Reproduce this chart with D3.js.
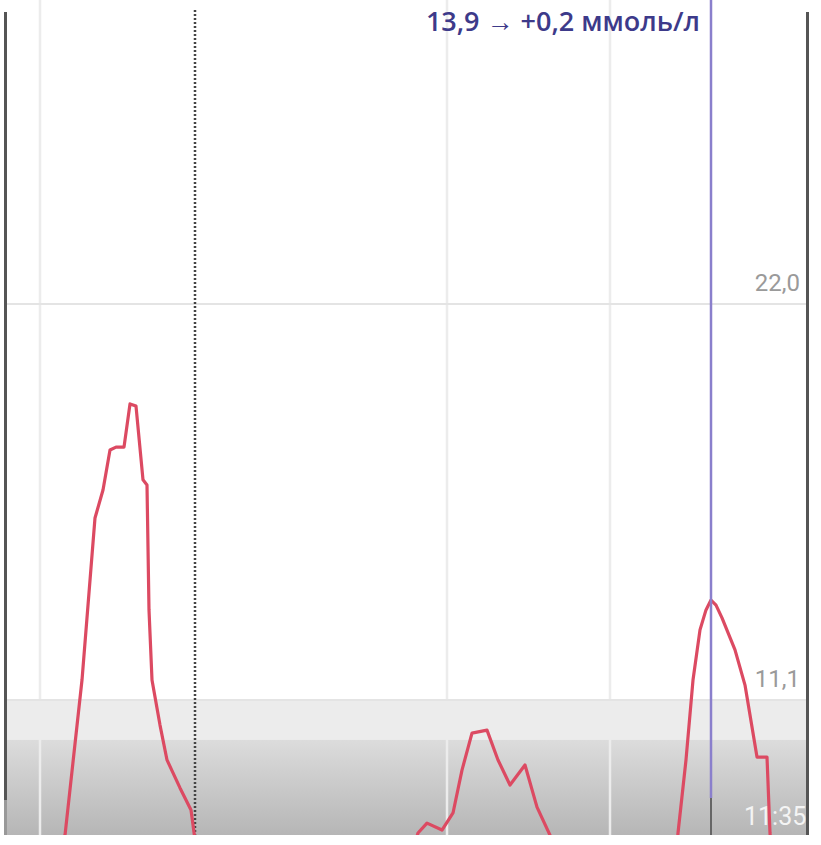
<!DOCTYPE html>
<html><head><meta charset="utf-8">
<script src="https://cdn.jsdelivr.net/npm/d3@7"></script>
<style>html,body{margin:0;padding:0;background:#fff;}svg{display:block;}</style>
</head><body>
<script>
// ---- data (minutes on a local time axis, values in mmol/L) ----
const peak1Times = [24, 26, 32.8, 38, 41.2, 44, 46.4, 49.6, 52, 54.4, 57.2, 58.8, 59.6, 60.8, 64, 66.8, 72, 76.4, 78, 79.2];
const peak1Values = [6.7, 7.38, 11.65, 16.11, 16.88, 17.98, 18.06, 18.06, 19.25, 19.19, 17.16, 17.02, 13.58, 11.65, 10.41, 9.45, 8.68, 8.07, 7.25, 6.7];
const peak2Times = [164, 167.2, 170.8, 176.8, 181.2, 184.8, 188.8, 194.8, 199.2, 204, 210, 214.8, 220, 222];
const peak2Values = [6.7, 7.44, 7.71, 7.52, 7.99, 9.17, 10.19, 10.27, 9.45, 8.76, 9.31, 8.15, 7.38, 6.97];
const peak3Times = [270.4, 271.2, 274.4, 277.2, 280, 282.4, 284.4, 286.4, 288.8, 294, 298, 302.8, 306.8, 308, 308.8];
const peak3Values = [6.7, 7.44, 9.45, 11.65, 13.03, 13.58, 13.85, 13.71, 13.36, 12.48, 11.51, 9.53, 9.53, 7.44, 6.7];
const yTicks = [22.0, 11.1];
const yTickLabels = ["22,0", "11,1"];
const vGridTimes = [16, 178.8, 244];
const markerTime = 78;
const cursorTime = 284.4;
const cursorLabel = "13,9 → +0,2 ммоль/л";
const timeLabel = "11:35";
const targetHigh = 11.1, targetInner = 10.0;

const W = 821, H = 845;
const plot = {left: 6, right: 808, top: 0, bottom: 835};
const x = d3.scaleLinear().domain([0, 328.4]).range([0, 821]);
const y = d3.scaleLinear().domain([11.1, 22.0]).range([700, 304]);

const svg = d3.select("body").append("svg").attr("width", W).attr("height", H);
const defs = svg.append("defs");
const grad = defs.append("linearGradient").attr("id", "lowg").attr("x1", 0).attr("y1", 0).attr("x2", 0).attr("y2", 1);
grad.append("stop").attr("offset", "0%").attr("stop-color", "#dcdcdc");
grad.append("stop").attr("offset", "100%").attr("stop-color", "#b6b6b6");
defs.append("clipPath").attr("id", "clip").append("rect")
  .attr("x", plot.left).attr("y", plot.top).attr("width", plot.right - plot.left).attr("height", plot.bottom - plot.top);

const g = svg.append("g").attr("clip-path", "url(#clip)");
g.append("rect").attr("x", 0).attr("y", 0).attr("width", W).attr("height", H).attr("fill", "#fff");
// bands
g.append("rect").attr("x", 0).attr("y", y(targetHigh)).attr("width", W)
  .attr("height", y(targetInner) - y(targetHigh)).attr("fill", "#ececec");
g.append("rect").attr("x", 0).attr("y", y(targetInner)).attr("width", W)
  .attr("height", plot.bottom - y(targetInner)).attr("fill", "url(#lowg)");
// grid
g.selectAll(".vg").data(vGridTimes).join("line")
  .attr("x1", d => x(d)).attr("x2", d => x(d)).attr("y1", 0).attr("y2", plot.bottom)
  .attr("stroke", "#ececec").attr("stroke-width", 2.5);
g.selectAll(".hg").data(yTicks).join("line")
  .attr("x1", 0).attr("x2", W).attr("y1", d => y(d)).attr("y2", d => y(d))
  .attr("stroke", "#e4e4e4").attr("stroke-width", 2);
// dotted marker
g.append("line").attr("x1", x(markerTime)).attr("x2", x(markerTime)).attr("y1", 10).attr("y2", plot.bottom)
  .attr("stroke", "#444").attr("stroke-width", 2.5).attr("stroke-dasharray", "2,2");
// glucose line
const line = d3.line().x(d => x(d[0])).y(d => y(d[1])).curve(d3.curveLinear);
[[peak1Times, peak1Values], [peak2Times, peak2Values], [peak3Times, peak3Values]].forEach(([t, v]) => {
  g.append("path").datum(d3.zip(t, v)).attr("d", line).attr("fill", "none")
    .attr("stroke", "#dc4a62").attr("stroke-width", 3.2).attr("stroke-linejoin", "round");
});
// cursor
g.append("line").attr("x1", x(cursorTime)).attr("x2", x(cursorTime)).attr("y1", 0).attr("y2", 798)
  .attr("stroke", "#8a7fcc").attr("stroke-width", 2.5);
g.append("line").attr("x1", x(cursorTime)).attr("x2", x(cursorTime)).attr("y1", 798).attr("y2", plot.bottom)
  .attr("stroke", "#666").attr("stroke-width", 2);
// y labels
g.selectAll(".yl").data(yTicks).join("text")
  .attr("x", 800).attr("y", d => y(d) - 13).attr("text-anchor", "end")
  .attr("font-family", "Roboto, sans-serif").attr("font-size", 24).attr("fill", "#9a9a9a")
  .text((d, i) => yTickLabels[i]);
// time label
g.append("text").attr("x", 744).attr("y", 825).attr("font-family", "Roboto, sans-serif")
  .attr("font-size", 25).attr("fill", "#f4f4f4").text(timeLabel);
// cursor label
svg.append("text").attr("x", 700).attr("y", 31).attr("text-anchor", "end")
  .attr("font-family", "'Open Sans', sans-serif").attr("font-weight", 600).attr("font-size", 27)
  .attr("fill", "#3d3a8a").text(cursorLabel);
// frame
svg.append("line").attr("x1", 5.5).attr("x2", 5.5).attr("y1", 12).attr("y2", 800).attr("stroke", "#555").attr("stroke-width", 3);
svg.append("line").attr("x1", 5.5).attr("x2", 5.5).attr("y1", 800).attr("y2", 835).attr("stroke", "#999").attr("stroke-width", 3);
svg.append("line").attr("x1", 807.5).attr("x2", 807.5).attr("y1", 12).attr("y2", 835).attr("stroke", "#555").attr("stroke-width", 3);
</script>
</body></html>
